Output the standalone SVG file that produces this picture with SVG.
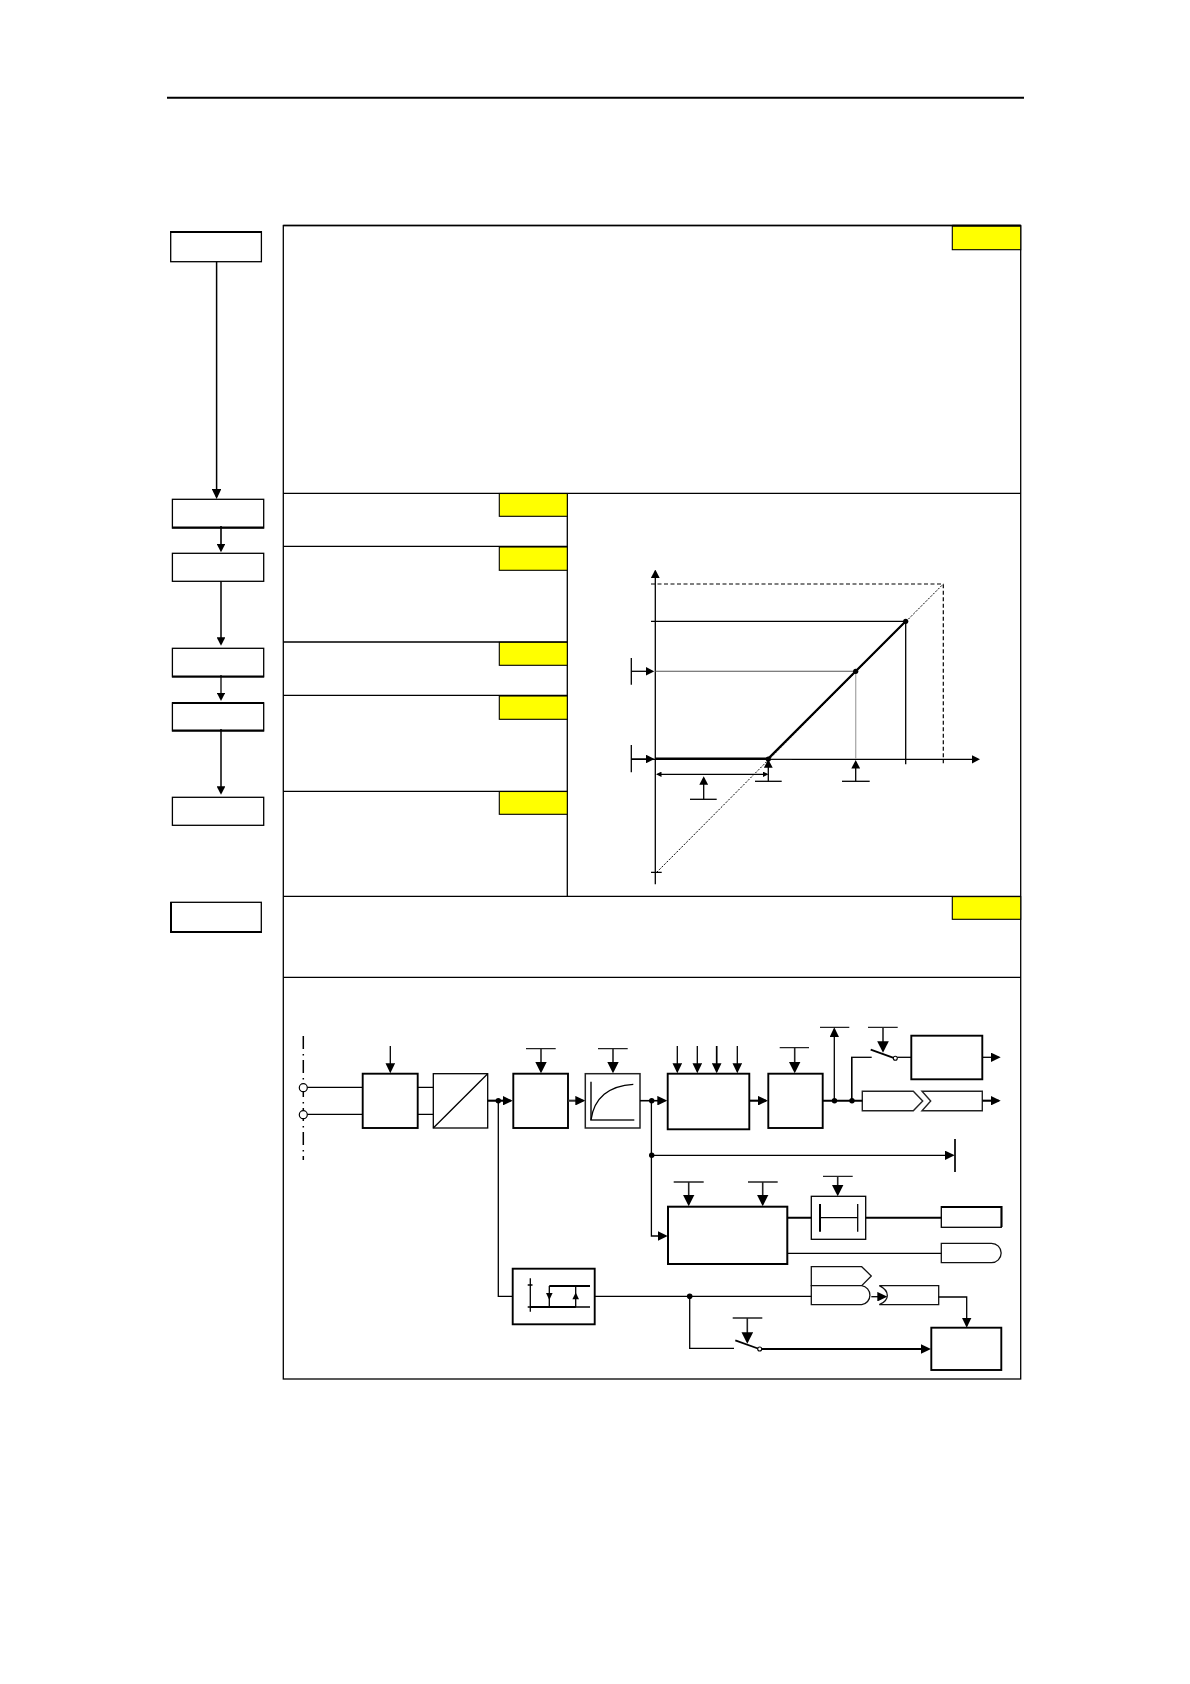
<svg xmlns="http://www.w3.org/2000/svg" width="1190" height="1684" viewBox="0 0 1190 1684">
<style>
.b{fill:#fff;stroke:#000;stroke-width:1.3}
.m{fill:#fff;stroke:#000;stroke-width:1.9}
.y{fill:#ff0;stroke:#000;stroke-width:1.1}
.l{fill:none;stroke:#000;stroke-width:1.3}
.t{fill:none;stroke:#000;stroke-width:2.1}
.g{fill:none;stroke:#222;stroke-width:1.6}
.bar{fill:none;stroke:#222;stroke-width:1.3}
.a{marker-end:url(#h8)}
.c{marker-end:url(#h10)}
.d{marker-end:url(#h7)}
</style>
<defs>
<marker id="h8" markerUnits="userSpaceOnUse" markerWidth="10" markerHeight="9.6" refX="8" refY="4.8" orient="auto" viewBox="0 0 10 9.6"><path d="M0 0L10 4.8L0 9.6z"/></marker>
<marker id="h10" markerUnits="userSpaceOnUse" markerWidth="11.5" markerHeight="11.6" refX="9.5" refY="5.8" orient="auto" viewBox="0 0 11.5 11.6"><path d="M0 0L11.5 5.8L0 11.6z"/></marker>
<marker id="h7" markerUnits="userSpaceOnUse" markerWidth="8.5" markerHeight="8.8" refX="6.5" refY="4.4" orient="auto" viewBox="0 0 8.5 8.8"><path d="M0 0L8.5 4.4L0 8.8z"/></marker>
<marker id="h5" markerUnits="userSpaceOnUse" markerWidth="5.5" markerHeight="5.4" refX="4" refY="2.7" orient="auto-start-reverse" viewBox="0 0 5.5 5.4"><path d="M0 0L5.5 2.7L0 5.4z"/></marker>
</defs>
<rect width="1190" height="1684" fill="#fff"/>
<path id="header-rule" d="M167 97.8H1024" fill="none" stroke="#000" stroke-width="2"/>

<g id="panel">
<rect class="b" x="283.3" y="225.5" width="737.4" height="1153.5"/>
<path class="l" d="M283.3 225.5H1020.7M283.3 493.3H1020.7M283.3 896.3H1020.7M283.3 977.3H1020.7M567.3 493.3V896.3M283.3 546.3H567.3M283.3 642H567.3M283.3 695.3H567.3M283.3 791.3H567.3"/>
</g>
<g id="tags">
<rect class="y" x="952.3" y="226" width="68.4" height="23.7"/>
<path d="M952.3 225.6H1020.7" stroke="#000" stroke-width="1.6"/>
<rect class="y" x="499.3" y="493.5" width="68" height="22.8"/>
<rect class="y" x="499.3" y="547" width="68" height="23.3"/>
<rect class="y" x="499.3" y="642.3" width="68" height="23"/>
<rect class="y" x="499.3" y="696" width="68" height="23.3"/>
<rect class="y" x="499.3" y="791.5" width="68" height="22.8"/>
<rect class="y" x="952.3" y="896.6" width="68.4" height="22.7"/>
</g>

<g id="step-1"><rect class="b" x="170.7" y="231.7" width="90.7" height="30"/><path d="M170.2 232H261.9" stroke="#000" stroke-width="2"/></g>
<g id="step-2"><rect class="b" x="172.4" y="499.3" width="91.3" height="28.7"/><path d="M172 527.6H264" stroke="#000" stroke-width="2"/></g>
<g id="step-3"><rect class="b" x="172.4" y="553.3" width="91.3" height="28"/></g>
<g id="step-4"><rect class="b" x="172.4" y="648.3" width="91.3" height="28.5"/><path d="M172 676.4H264" stroke="#000" stroke-width="2"/></g>
<g id="step-5"><rect class="b" x="172.4" y="702.9" width="91.3" height="28"/><path d="M172 703H264M172 730.4H264" stroke="#000" stroke-width="2"/></g>
<g id="step-6"><rect class="b" x="172.4" y="797.3" width="91.3" height="28"/></g>
<g id="step-7"><rect class="b" x="170.9" y="902.3" width="90.4" height="30"/><path d="M171 902V932.8M170.4 932H261.8" stroke="#000" stroke-width="2"/></g>

<g id="chart">
<path class="l d" d="M655.3 884.3V571.5"/>
<path class="l d" d="M631.3 759.3H978"/>
<path d="M651 584H943.3V763.3" fill="none" stroke="#000" stroke-width="1.2" stroke-dasharray="4 2.5"/>
<path d="M656.7 872.3L943.3 584" fill="none" stroke="#000" stroke-width="1" stroke-dasharray="2 1.5"/>
<path class="l" d="M651 872.3H661.7M651 621.3H905.7V764.3"/>
<path d="M768 758.6H791.7" stroke="#bbb" stroke-width="1" fill="none"/>
<path d="M655.3 671.3H855.7" stroke="#555" stroke-width="1.1" fill="none"/>
<path d="M855.7 671.3V759" stroke="#aaa" stroke-width="1.3" fill="none"/>
<path d="M655.3 758.6H768.3L905.7 621.3" fill="none" stroke="#000" stroke-width="2.2"/>
<circle cx="905.7" cy="621.3" r="2.6"/><circle cx="855.7" cy="671.3" r="2.6"/><circle cx="768.3" cy="759" r="2.6"/>
<path class="l" d="M631.3 658V684.7M631.3 745V772.3"/>
<path class="l d" d="M631.3 671.3H652.3"/>
<path class="l d" d="M631.3 759H652.3"/>
<path class="l" d="M657.5 774.3H767" marker-start="url(#h5)" marker-end="url(#h5)"/>
<path class="l d" d="M703.7 799.3V778.3"/><path class="l" d="M690 799.3H716.7"/>
<path class="l d" d="M768.3 781.3V761.3"/><path class="l" d="M755 781.3H781.7"/>
<path class="l d" d="M855.7 781.3V762"/><path class="l" d="M842 781.3H869.7"/>
</g>

<g id="terminals">
<path d="M303.3 1036V1160" fill="none" stroke="#000" stroke-width="1.5" stroke-dasharray="13 5 1.5 4.5"/>
<circle cx="303.3" cy="1087.7" r="4" fill="#fff" stroke="#000" stroke-width="1.2"/>
<circle cx="303.3" cy="1114.7" r="4" fill="#fff" stroke="#000" stroke-width="1.2"/>
</g>
<g id="block-a"><rect class="m" x="362.7" y="1073.7" width="55" height="54.3"/></g>
<g id="block-b"><rect class="b" x="433.3" y="1073.7" width="54.4" height="54.3"/><path class="l" d="M433.3 1128L487.7 1073.7"/></g>
<g id="block-c"><rect class="m" x="513.3" y="1073.7" width="54.7" height="54.3"/></g>
<g id="block-d"><rect class="b" x="585.3" y="1073.7" width="54.7" height="54.3" style="stroke:#222;stroke-width:1.5"/>
<path class="g" d="M591 1081.7V1120H634.3"/><path class="l" d="M591 1120C594 1098 609 1085.5 633.3 1084.3"/></g>
<g id="block-e"><rect class="m" x="667.7" y="1073.7" width="81.6" height="55.6"/></g>
<g id="block-f"><rect class="m" x="768.3" y="1073.7" width="54.4" height="54.3"/></g>
<g id="block-g"><rect class="m" x="911.3" y="1035.7" width="71" height="43.6"/></g>
<g id="tag-out-1"><path d="M862.3 1091.3H913.3L922.7 1101L913.3 1110.7H862.3Z" fill="#fff" stroke="#222" stroke-width="1.4"/></g>
<g id="tag-out-2"><path d="M922 1091.3H982.3V1110.7H922L930.7 1101Z" fill="#fff" stroke="#222" stroke-width="1.4"/></g>
<g id="block-h"><rect x="668" y="1206.7" width="119.3" height="57.3" fill="#fff" stroke="#000" stroke-width="2"/></g>
<g id="block-i"><rect class="b" x="811.3" y="1196.3" width="54.4" height="43"/>
<path d="M820 1204V1231.7" stroke="#000" stroke-width="2"/><path class="l" d="M820 1217.7H857.7"/><path d="M857.7 1204V1231.7" stroke="#000" stroke-width="1.3"/></g>
<g id="block-j"><rect class="b" x="941.3" y="1206.7" width="60" height="20.6"/><path d="M941 1207H1001.6V1227" fill="none" stroke="#000" stroke-width="1.9"/></g>
<g id="tag-k"><path d="M941.3 1243.3H991.5A9.7 9.7 0 0 1 991.5 1262.7H941.3Z" fill="#fff" stroke="#111" stroke-width="1.3"/></g>
<g id="block-l"><rect class="m" x="512.7" y="1268.7" width="82" height="55.6"/>
<path class="l" d="M530.3 1278.3V1311.7M527.7 1285H532.5M527.7 1307H590M575.7 1286V1307M549.3 1286V1307"/>
<path d="M530.3 1307H575.7M549.3 1286H590" fill="none" stroke="#000" stroke-width="1.8"/>
<path d="M546 1293H552.6L549.3 1300Z"/><path d="M572.4 1299.3H579L575.7 1292.5Z"/></g>
<g id="tag-p"><path d="M811.3 1266.7H861.7L871.3 1276L861.7 1285.7H811.3Z" fill="#fff" stroke="#111" stroke-width="1.3"/></g>
<g id="tag-r"><path d="M811.3 1285.7H861.7A9.6 9.6 0 0 1 861.7 1304.7H811.3Z" fill="#fff" stroke="#111" stroke-width="1.3"/></g>
<g id="tag-s"><path d="M879.3 1285.7H938.7V1304.7H879.3C890 1300 890 1291 879.3 1285.7Z" fill="#fff" stroke="#111" stroke-width="1.3"/></g>
<g id="block-m"><rect class="m" x="931.3" y="1327.7" width="70" height="42.3"/></g>

<g id="connectors">
<path class="l a" d="M216.6 261.7V497" style="stroke-width:1.5"/>
<path class="l d" d="M221 526V550.3" style="stroke-width:1.6"/>
<path class="l d" d="M221 581V643.7" style="stroke-width:1.5"/>
<path class="l d" d="M221 675V699"/>
<path class="l d" d="M221 729V792.7" style="stroke-width:1.5"/>

<path class="l" d="M307.3 1087.3H362.7M307.3 1114.3H362.7M417.7 1087.3H433.3M417.7 1114.3H433.3"/>
<path class="l a" d="M390.3 1046V1071.3"/>
<path class="t a" d="M487.7 1100.7H510.7"/>
<path class="l" d="M498.3 1100.7V1296.3H512.7"/>
<circle cx="498.3" cy="1100.7" r="2.7"/>
<path class="bar" d="M526 1048.7H555.7M598 1048.7H627.7M779.7 1047.7H809M820 1027.3H849.3M868 1027.3H897.7M673.7 1182H703.7M748 1182H777.7M823 1176.3H852.7M732.7 1318H762.3"/>
<path class="g c" d="M541 1048.7V1071.3"/>
<path class="g c" d="M613 1048.7V1071.3"/>
<path class="g c" d="M794.7 1047.7V1071.3"/>
<path class="g c" d="M883 1027.3V1050.7"/>
<path class="g c" d="M688.7 1182V1204.2"/>
<path class="g c" d="M762.7 1182V1204.2"/>
<path class="g c" d="M837.7 1176.3V1194.3"/>
<path class="g c" d="M747.3 1318V1341.7"/>
<path class="t a" d="M568 1100.7H583.3" style="stroke:#333"/>
<path class="t a" d="M640 1100.7H665.3" style="stroke-width:1.6"/>
<circle cx="651.7" cy="1100.7" r="2.7"/>
<path class="l a" d="M651.4 1100.7V1236H665.7"/>
<circle cx="651.7" cy="1155.3" r="2.7"/>
<path class="l a" d="M651.7 1155.3H952.7"/>
<path d="M955 1139V1172" stroke="#000" stroke-width="1.7"/>
<path class="l a" d="M677.3 1046V1071.3"/><path class="l a" d="M697.3 1046V1071.3"/><path class="l a" d="M716.7 1046V1071.3" style="stroke-width:1.7"/><path class="l a" d="M737.3 1046V1071.3"/>
<path class="t a" d="M749.3 1100.7H766"/>
<path class="t" d="M822.7 1100.7H862.3"/>
<circle cx="834.5" cy="1100.7" r="2.7"/><circle cx="852" cy="1100.7" r="2.7"/>
<path class="l a" d="M834.3 1100.7V1029.3"/>
<path class="t" d="M851.8 1100.7V1057.3" style="stroke-width:1.6"/>
<path class="l" d="M851 1057.3H871.7"/>
<path d="M870.7 1049.7L895 1058.3" stroke="#000" stroke-width="1.8"/>
<circle cx="895.3" cy="1058.3" r="2" fill="#fff" stroke="#000" stroke-width="1.1"/>
<path class="l" d="M897.3 1057.3H911.3"/>
<path class="l a" d="M982.3 1057.3H998.7"/>
<path class="t a" d="M982.3 1100.7H998.7"/>
<path class="t" d="M787.3 1217.7H811.3M865.7 1217.7H941.3"/>
<path class="l" d="M787.3 1253.3H941.3M594.7 1296.3H811.3M689.7 1296.3V1348.3H734"/>
<circle cx="689.7" cy="1296.3" r="2.8"/>
<path d="M735.3 1340.3L759.3 1349" stroke="#000" stroke-width="1.8"/>
<circle cx="759.7" cy="1349" r="2" fill="#fff" stroke="#000" stroke-width="1.1"/>
<path class="t a" d="M762 1349H929"/>
<path class="l a" d="M871.3 1296.7H885.3"/>
<path class="l a" d="M938.7 1297H966.7V1325.7"/>
</g>
</svg>
